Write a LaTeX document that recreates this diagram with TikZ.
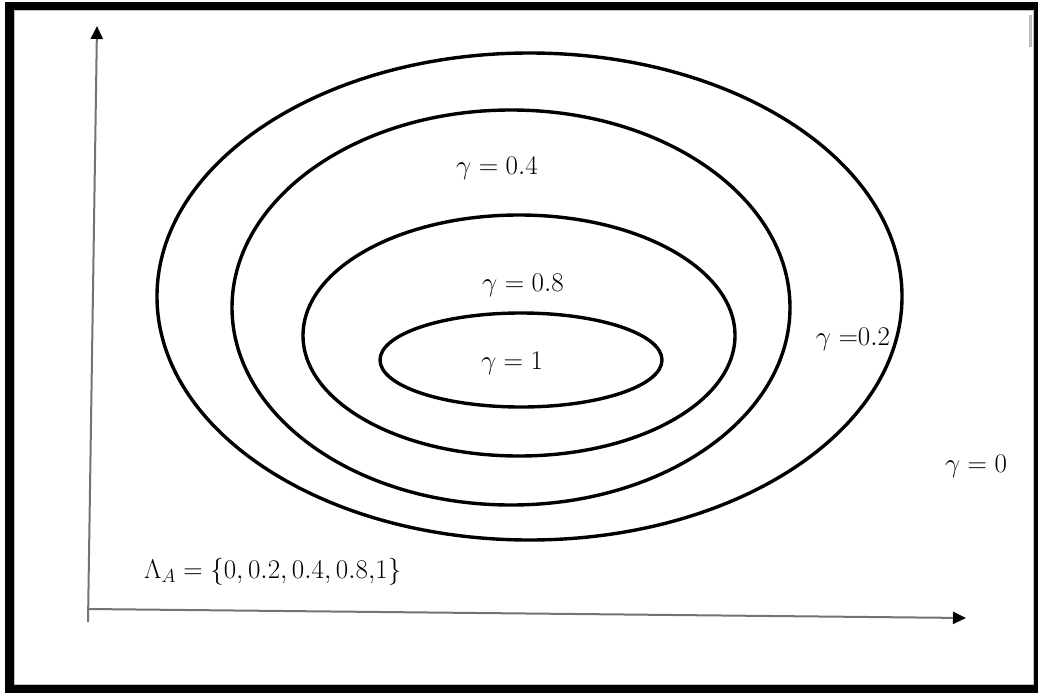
\documentclass[tikz,border=0pt]{standalone}
\usepackage{fix-cm}
\usetikzlibrary{arrows.meta}
\begin{document}
\begin{tikzpicture}[x=1pt,y=-1pt,
  lvl/.style={line width=3.4pt,black},
  axis/.style={line width=2pt,black!55,-{Triangle[length=13pt,width=12pt,color=black]}},
  lab/.style={inner sep=0pt,font=\fontsize{27}{32}\selectfont}]
\useasboundingbox (0,0) rectangle (1038,693);
\fill[white] (0,0) rectangle (1038,693);
\fill[black] (5,2) rectangle (1038,693);
\fill[white] (14,10) rectangle (1034,685);
\draw[black!25,line width=1pt] (14.5,10.5) rectangle (1033.5,684.5);
\fill[black!25] (1029,15) rectangle (1031.5,47);
% axes
\coordinate (yb) at (88,622);
\coordinate (yt) at (97,26);
\coordinate (xl) at (88,609);
\coordinate (xr) at (966,618);
\draw[axis] (yb) -- (yt);
\draw[axis] (xl) -- (xr);
% level sets
\draw[lvl] (529.5,296.5) ellipse [x radius=372.5,y radius=243.5];
\draw[lvl] (511,307.5) ellipse [x radius=279,y radius=197.5];
\draw[lvl] (519,335.5) ellipse [x radius=216,y radius=120.5];
\draw[lvl] (521,360) ellipse [x radius=141,y radius=47];
% labels
\node[lab] (l04) at (497,168) {$\gamma = 0.4$};
\node[lab] (l08) at (523,285) {$\gamma = 0.8$};
\node[lab] (l1) at (512,363) {$\gamma = 1$};
\node[lab] (l02) at (853,339) {$\gamma\;{=}0.2$};
\node[lab] (l0) at (976,466) {$\gamma = 0$};
\node[lab,anchor=west] (lam) at (144,572) {$\Lambda_A = \{0, 0.2, 0.4, 0.8{,}1\}$};
\end{tikzpicture}
\end{document}
